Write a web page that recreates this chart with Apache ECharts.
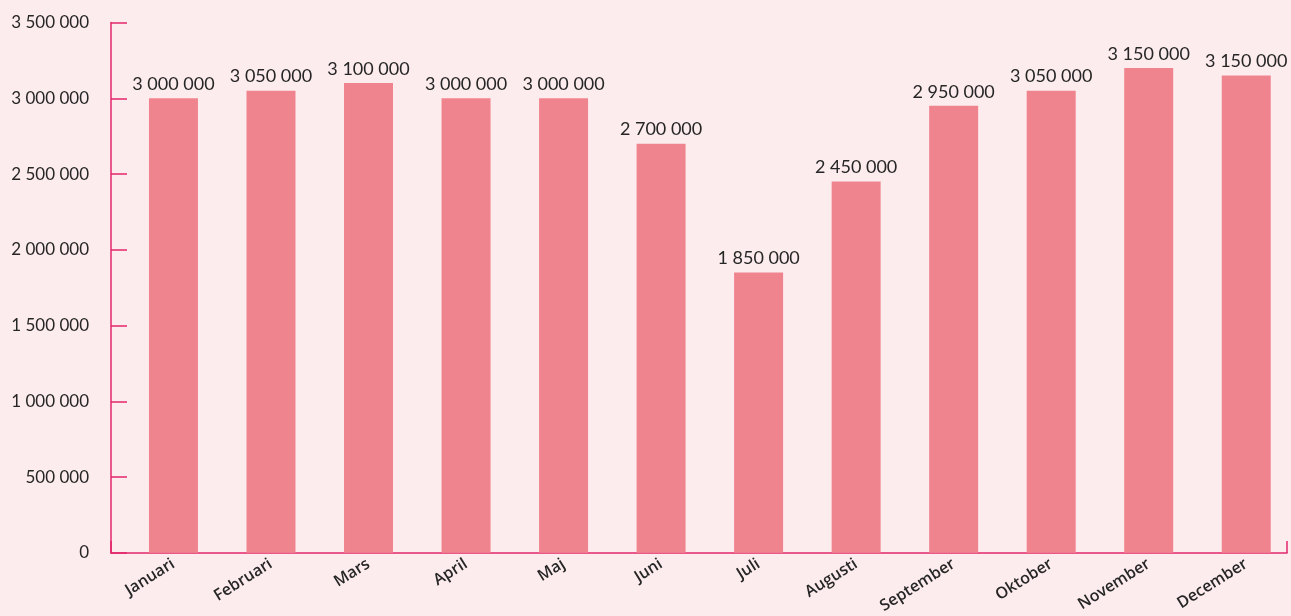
<!DOCTYPE html>
<html>
<head>
<meta charset="utf-8">
<script src="https://cdn.jsdelivr.net/npm/echarts@6/dist/echarts.min.js"></script>
<style>
  html, body { margin: 0; padding: 0; background: #fdecee; overflow: hidden; width: 1291px; height: 616px; }
  #chart { width: 1295px; height: 616px; }
</style>
</head>
<body>
<div id="chart"></div>
<script>
const categories = ['Januari', 'Februari', 'Mars', 'April', 'Maj', 'Juni', 'Juli', 'Augusti', 'September', 'Oktober', 'November', 'December'];
const values = [3000000, 3050000, 3100000, 3000000, 3000000, 2700000, 1850000, 2450000, 2950000, 3050000, 3200000, 3150000];
const valueLabels = ['3 000 000', '3 050 000', '3 100 000', '3 000 000', '3 000 000', '2 700 000', '1 850 000', '2 450 000', '2 950 000', '3 050 000', '3 150 000', '3 150 000'];
const yMin = 0, yMax = 3500000, yStep = 500000;

function fmt(v) {
  return String(v).replace(/\B(?=(\d{3})+(?!\d))/g, ' ');
}

const AXIS = '#e3266a';
const BAR = '#f0848e';
const TXT = '#262626';

const chart = echarts.init(document.getElementById('chart'));
chart.setOption({
  backgroundColor: '#fdecee',
  animation: false,
  grid: [
    { left: 111, right: 8, top: 22.5, bottom: 63 },
    { left: 124.7, right: 0, top: 22.5, bottom: 63 }
  ],
  xAxis: [
    {
      gridIndex: 0, type: 'value', min: 0, max: 1, interval: 1,
      axisLine: { show: true, lineStyle: { color: AXIS, width: 1.5 } },
      axisTick: { show: true, inside: true, length: 12, lineStyle: { color: AXIS, width: 1.5 } },
      axisLabel: { show: false },
      splitLine: { show: false }
    },
    {
      gridIndex: 1, type: 'category', data: categories,
      axisLine: { show: false },
      axisTick: { show: false },
      axisLabel: {
        rotate: 32, interval: 0, margin: 10,
        color: TXT, fontFamily: 'Open Sans', fontWeight: 600, fontSize: 16
      }
    }
  ],
  yAxis: [
    {
      gridIndex: 0, type: 'value', min: yMin, max: yMax, interval: yStep,
      axisLine: { show: true, lineStyle: { color: AXIS, width: 1.5 } },
      axisTick: { show: true, inside: true, length: 16, lineStyle: { color: AXIS, width: 1.5 } },
      axisLabel: { color: TXT, fontFamily: 'Lato', fontSize: 17, margin: 22, formatter: fmt },
      splitLine: { show: false }
    },
    {
      gridIndex: 1, type: 'value', min: yMin, max: yMax, interval: yStep,
      show: false, splitLine: { show: false }
    }
  ],
  series: [{
    type: 'bar',
    xAxisIndex: 1, yAxisIndex: 1,
    data: values,
    barWidth: 49,
    itemStyle: { color: BAR },
    label: {
      show: true, position: 'top', distance: 5,
      color: TXT, fontFamily: 'Lato', fontSize: 18,
      formatter: p => valueLabels[p.dataIndex]
    }
  }]
});
</script>
</body>
</html>
